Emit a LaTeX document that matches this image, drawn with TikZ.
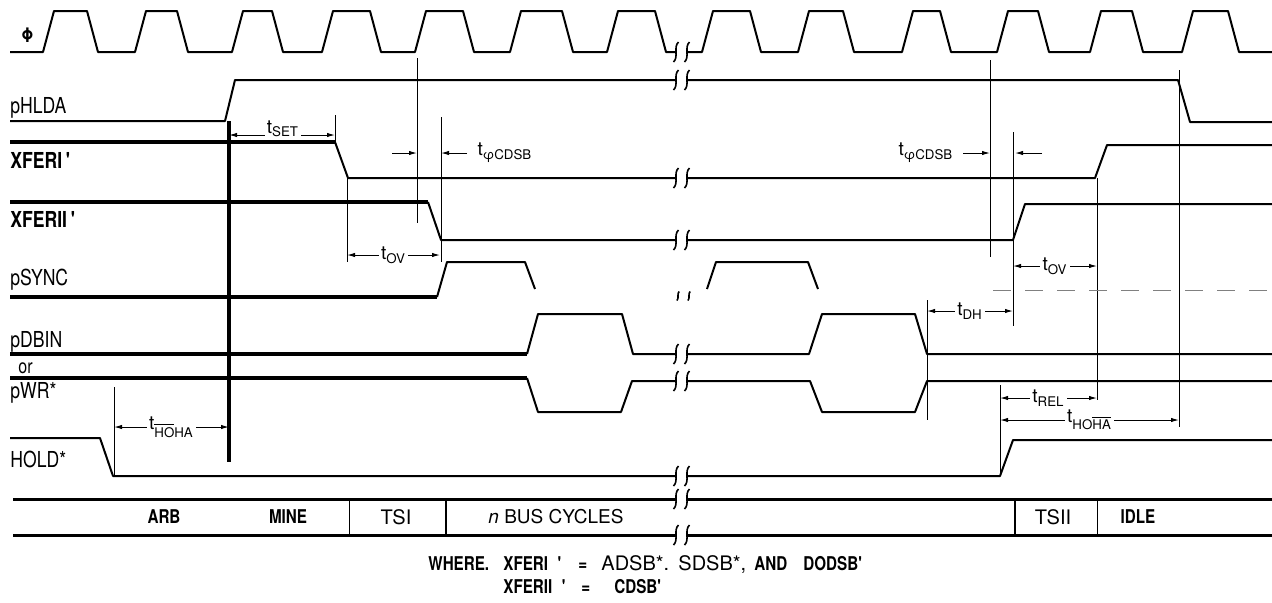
\documentclass[tikz,border=0pt]{standalone}
\usepackage{fontspec}
\setmainfont{TeX Gyre Heros}[FakeStretch=0.8]
\newfontfamily\plainfam{TeX Gyre Heros}
\usetikzlibrary{arrows.meta}

\newcommand\tsub[1]{t\textsubscript{#1}}
\newcommand\pr{\textquotesingle}
\newcommand\ovl[1]{$\overline{\hbox{#1}}$}

\begin{document}
\begin{tikzpicture}[x=0.5pt, y=-0.5pt, line join=round,
    sig/.style={line width=1pt},
    bus/.style={line width=1.8pt},
    bar/.style={line width=1.5pt},
    dimline/.style={line width=0.5pt},
    dim/.style={line width=0.5pt, {Latex[length=4pt,width=2.2pt]}-{Latex[length=4pt,width=2.2pt]}},
    dimto/.style={line width=0.5pt, -{Latex[length=4pt,width=2.2pt]}},
    float/.style={line width=0.4pt, gray, dash pattern=on 9pt off 7pt},
    tlbl/.style={fill=white, inner sep=1.2pt, font=\plainfam\fontsize{9.5}{11}\selectfont},
    siglbl/.style={anchor=base west, inner sep=0pt, font=\fontsize{11}{13}\selectfont},
    siglblb/.style={siglbl, font=\fontsize{11}{13}\selectfont\bfseries},
    barlbl/.style={inner sep=0pt, font=\plainfam\fontsize{9.5}{11}\selectfont},
    barlblb/.style={inner sep=0pt, font=\fontsize{9.5}{11}\selectfont\bfseries},
    note/.style={anchor=base west, inner sep=0pt, font=\fontsize{9.5}{11}\selectfont\bfseries},
    notep/.style={anchor=base west, inner sep=0pt, font=\plainfam\fontsize{10}{12}\selectfont},
    brk/.pic={\draw[line width=0.8pt] (2.5,-10) .. controls (-3,-5) and (3,5) .. (-2.5,10);},
    ]
  \useasboundingbox (0,0) rectangle (1272,602);

  % reference lines
  \draw[line width=1.8pt] (229,121) -- (229,462);
  \draw[dimline] (335,115) -- (335,142);
  \draw[dimline] (347,178) -- (347,262);
  \draw[dimline] (417,58) -- (417,223);
  \draw[dimline] (441,117) -- (441,262);
  \draw[dimline] (990,60) -- (990,257);
  \draw[dimline] (1013,132) -- (1013,326);
  \draw[dimline] (1179,70) -- (1179,427);
  \draw[dimline] (1097,178) -- (1097,400);
  \draw[dimline] (927,300) -- (927,420);
  \draw[dimline] (1000,385) -- (1000,476);
  \draw[dimline] (114,387) -- (114,476);

  % timing arrows
  \draw[dim] (229,135) -- (335,135);
  \node[tlbl, anchor=base, inner sep=0.8pt] (tset) at (283,133) {\tsub{SET}};
  \draw[dim] (347,255) -- node[tlbl] (tovl) {\tsub{OV}} (440,255);
  \draw[dimto] (392,153) -- (417,153);
  \draw[dimto] (467,153) -- (441,153);
  \node[tlbl] (tcdsbl) at (505,153) {\tsub{φCDSB}};
  \draw[dimto] (963,153) -- (990,153);
  \draw[dimto] (1042,153) -- (1015,153);
  \node[tlbl] (tcdsbr) at (926,153) {\tsub{φCDSB}};
  \draw[dim] (1013,266) -- node[tlbl] (tovr) {\tsub{OV}} (1097,266);
  \draw[dim] (927,311) -- node[tlbl] (tdh) {\tsub{DH}} (1013,311);
  \draw[dim] (1000,398) -- node[tlbl] (trel) {\tsub{REL}} (1097,398);
  \draw[dim] (1000,420) -- node[tlbl] (thohar) {t\textsubscript{HO\ovl{HA}}} (1179,420);
  \draw[dim] (114,427) -- node[tlbl] (thohal) {t\textsubscript{\ovl{HO}HA}} (229,427);

  % clock
  \draw[sig] (10,52) foreach \r/\f in {43/87,135/177,232/272,322/370,415/463,510/562,607/655}
    { -- (\r,52) -- (\r+11,11) -- (\f,11) -- (\f+11,52) } -- (676,52);
  \draw[sig] (687,52) foreach \r/\f in {702/750,798/843,902/940,997/1038,1090/1132,1182/1228}
    { -- (\r,52) -- (\r+11,11) -- (\f,11) -- (\f+11,52) } -- (1272,52);

  % signals
  \draw[sig] (10,121) -- (225,121) -- (235,80) -- (676,80);
  \draw[sig] (687,80) -- (1178,80) -- (1190,122) -- (1272,122);

  \draw[bus] (10,142) -- (335,142);
  \draw[sig] (335,142) -- (348,178) -- (676,178);
  \draw[sig] (687,178) -- (1095,178) -- (1107,145) -- (1272,145);

  \draw[bus] (10,202) -- (428,202);
  \draw[sig] (428,202) -- (441,240) -- (676,240);
  \draw[sig] (687,240) -- (1013,240) -- (1025,204) -- (1272,204);

  \draw[bus] (10,297) -- (437,297);
  \draw[sig] (437,297) -- (447,262) -- (525,262) -- (535,289);
  \draw[sig] (707,289) -- (716,262) -- (808,262) -- (818,289);
  \draw[float] (993,290) -- (1272,290);

  \draw[bus] (10,354) -- (527,354);
  \draw[sig] (527,354) -- (538,314) -- (622,314) -- (633,354) -- (676,354);
  \draw[sig] (687,354) -- (809,354) -- (822,314) -- (915,314) -- (927,354) -- (1272,354);

  \draw[bus] (10,378) -- (527,378);
  \draw[sig] (527,378) -- (538,412) -- (621,412) -- (632,381) -- (676,381);
  \draw[sig] (687,381) -- (810,381) -- (822,412) -- (915,412) -- (927,381) -- (1272,381);

  \draw[sig] (10,438) -- (100,438) -- (113,476) -- (676,476);
  \draw[sig] (687,476) -- (1000,476) -- (1013,440) -- (1272,440);

  % state bar
  \draw[bar] (13,499) -- (676,499) (687,499) -- (1272,499);
  \draw[bar] (13,535) -- (676,535) (687,535) -- (1272,535);
  \draw[dimline] (349,499) -- (349,535);
  \draw[sig] (446,499) -- (446,535);
  \draw[sig] (1015,499) -- (1015,535);
  \draw[dimline] (1097,499) -- (1097,535);

  % breaks
  \foreach \y in {52,80,178,240,354,381,476,499,535}
    { \pic at (676,\y) {brk}; \pic at (687,\y) {brk}; }
  \pic[scale=0.45] at (678,296) {brk};
  \pic[scale=0.45] at (689,296) {brk};

  % signal names
  \node[siglblb, font=\fontsize{10}{12}\selectfont\bfseries] (phi) at (21,42) {Φ};
  \node[siglbl] (hlda) at (10,113) {pHLDA};
  \node[siglblb] (xfer1) at (10,168) {XFERI\,\pr};
  \node[siglblb] (xfer2) at (10,227) {XFERII\,\pr};
  \node[siglbl] (sync) at (10,285) {pSYNC};
  \node[siglbl] (dbin) at (10,347) {pDBIN};
  \node[siglbl, font=\fontsize{10}{12}\selectfont] (or) at (18,373) {or};
  \node[siglbl] (pwr) at (10,398) {pWR*};
  \node[siglbl] (hold) at (10,467) {HOLD*};

  % states
  \node[barlblb] (arb) at (164,517) {ARB};
  \node[barlblb] (mine) at (288,517) {MINE};
  \node[barlbl, font=\plainfam\fontsize{10}{12}\selectfont] (tsi) at (396,517) {TSI};
  \node[barlbl, font=\plainfam\fontsize{9.5}{11}\selectfont] (ncyc) at (556,517) {\textit{n} BUS CYCLES};
  \node[barlbl, font=\plainfam\fontsize{10}{12}\selectfont] (tsii) at (1053,517) {TSII};
  \node[barlblb] (idle) at (1138,517) {IDLE};

  % note
  \node[note] (wa1) at (428,570) {WHERE.};
  \node[note] (wa2) at (503,570) {XFERI\enspace\pr};
  \node[note] (wa3) at (578,570) {=};
  \node[notep] (wa4) at (601,570) {ADSB*.};
  \node[notep] (wa5) at (678,570) {SDSB*,};
  \node[note] (wa6) at (754,570) {AND};
  \node[note] (wa7) at (803,570) {DODSB\pr};
  \node[note] (wb1) at (503,593) {XFERII\enspace\pr};
  \node[note] (wb2) at (581,593) {=};
  \node[note] (wb3) at (614,593) {CDSB\pr};
\end{tikzpicture}
\end{document}
